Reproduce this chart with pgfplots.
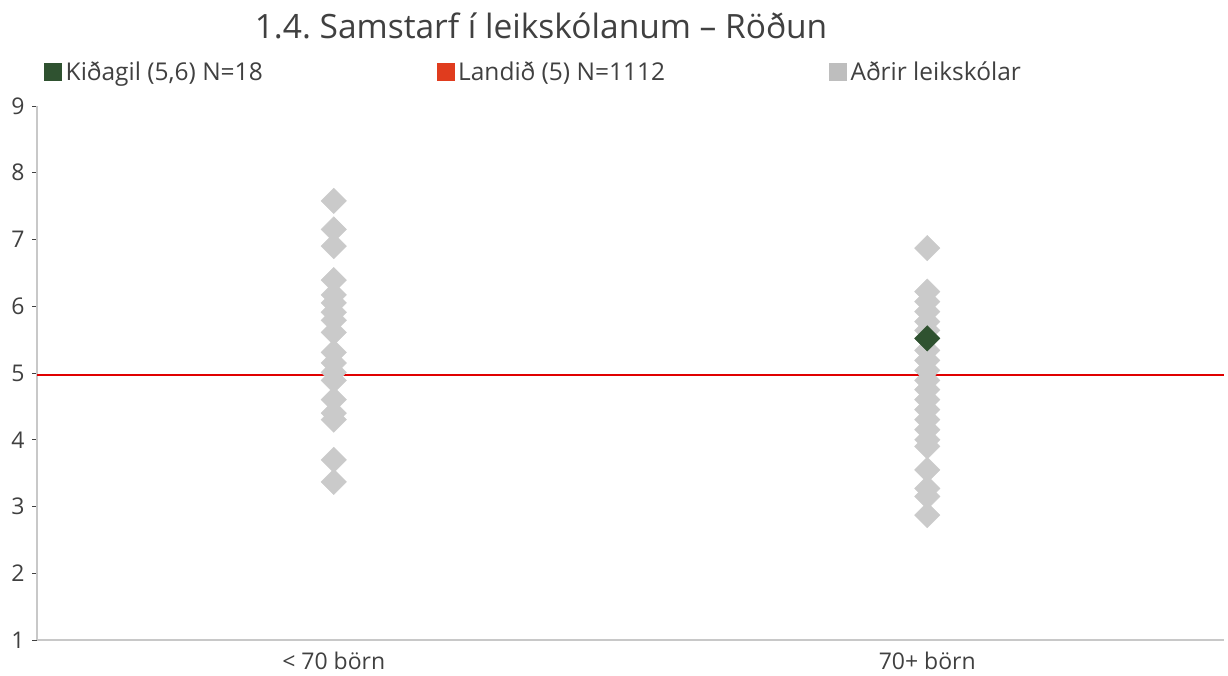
\documentclass[border=0pt]{standalone}
\usepackage{pgfplots}
\pgfplotsset{compat=1.18}
\usepackage{fontspec}
\setmainfont{Open Sans}
\definecolor{kgreen}{HTML}{2F5230}
\definecolor{lred}{HTML}{E03C1E}
\definecolor{lgray}{HTML}{CACACA}
\definecolor{legray}{HTML}{BEBEBE}
\definecolor{txt}{HTML}{404040}
\definecolor{axgray}{HTML}{C8C8C8}
\definecolor{redline}{HTML}{E00000}
\begin{document}
\frenchspacing
\begin{tikzpicture}
\begin{axis}[
  scale only axis,
  width=1187pt, height=534pt,
  xmin=0.5, xmax=2.5, ymin=1, ymax=9,
  axis lines=left,
  axis line style={axgray, line width=2pt, -},
  xtick={1,2}, xticklabels={< 70 börn, 70+ börn},
  x tick style={draw=none},
  ytick={1,...,9},
  y tick style={txt, line width=0.8pt},
  tick align=outside,
  major tick length=5pt,
  ticklabel style={font=\fontsize{23}{27}\selectfont, text=txt},
  /pgf/number format/assume math mode=true,
  yticklabel style={xshift=-4pt},
  xticklabel style={yshift=-3pt},
  every axis title shift=0pt,
  title={\fontsize{33.5}{38}\selectfont 1.4. Samstarf í leikskólanum – Röðun},
  title style={at={(axis description cs:0.4246,1.1273)}, anchor=base, text=txt},
  legend columns=3,
  legend style={at={(axis description cs:0.006,1.0637)}, anchor=west, draw=none, fill=none, inner sep=0pt,
    font=\fontsize{24.5}{28}\selectfont, text=txt, cells={anchor=west}},
  legend image code/.code={\fill[#1] (0pt,-8.5pt) rectangle (17pt,8.5pt);},
  clip=false,
]
\addlegendimage{kgreen, fill=kgreen}
\addlegendentry{\makebox[371pt][l]{\hspace*{2pt}Kiðagil (5,6) N=18}}
\addlegendimage{lred, fill=lred}
\addlegendentry{\makebox[371pt][l]{\hspace*{2pt}Landið (5) N=1112}}
\addlegendimage{legray, fill=legray}
\addlegendentry{\hspace*{2pt}Aðrir leikskólar}

\addplot[redline, line width=2.5pt, forget plot] coordinates {(0.5,4.97) (2.5,4.97)};

\addplot[only marks, color=lgray, mark=square*, mark size=9pt, mark options={rotate=45, draw=lgray, fill=lgray}, forget plot] coordinates {
(1,7.58) (1,7.15) (1,6.90) (1,6.39) (1,6.17) (1,6.05) (1,5.91) (1,5.79) (1,5.61)
(1,5.31) (1,5.15) (1,5.01) (1,4.89) (1,4.60) (1,4.40) (1,4.30) (1,3.70) (1,3.37)
(2,6.87) (2,6.22) (2,6.07) (2,5.92) (2,5.77) (2,5.64) (2,5.34) (2,5.19) (2,5.04)
(2,4.89) (2,4.75) (2,4.60) (2,4.45) (2,4.30) (2,4.15) (2,4.00) (2,3.90) (2,3.55)
(2,3.27) (2,3.15) (2,2.87)
};
\addplot[only marks, color=kgreen, mark=square*, mark size=9pt, mark options={rotate=45, draw=kgreen, fill=kgreen}, forget plot] coordinates {(2,5.52)};
\end{axis}
\pgfresetboundingbox
\path ([xshift=-37pt,yshift=-35pt]current axis.south west) rectangle ([xshift=4pt,yshift=106pt]current axis.north east);
\end{tikzpicture}
\end{document}
